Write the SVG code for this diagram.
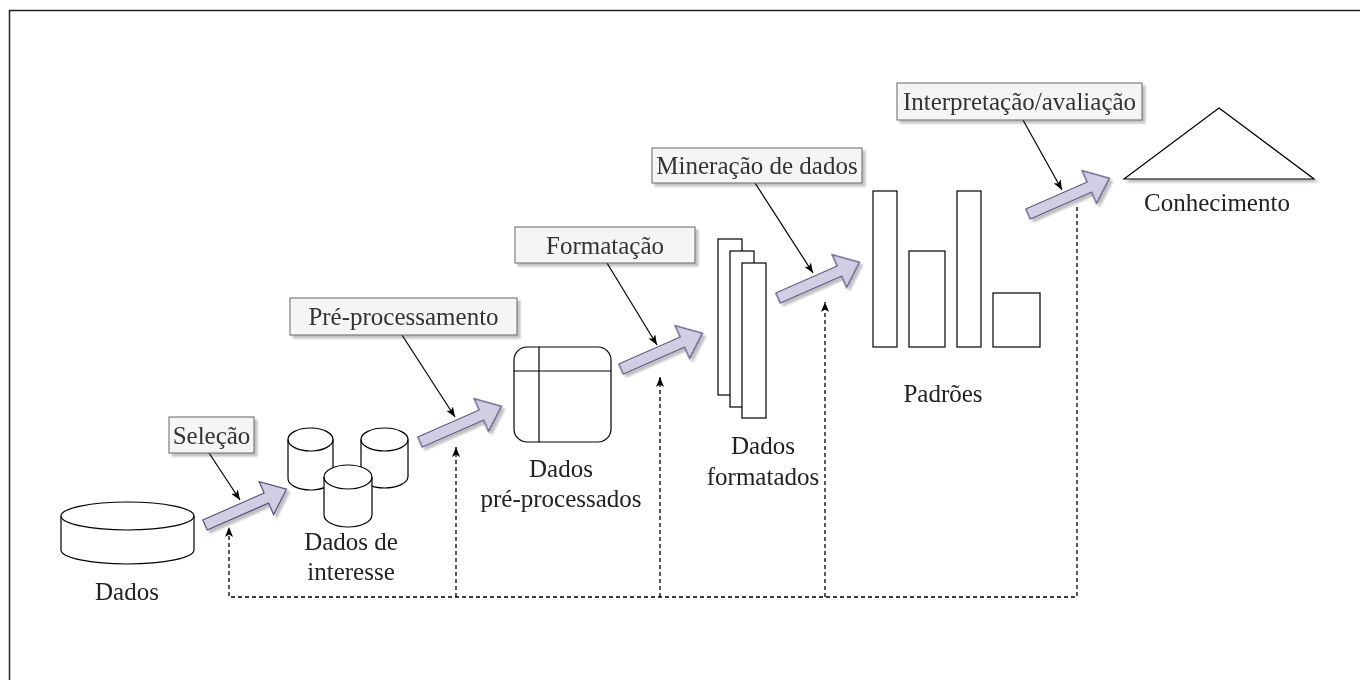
<svg xmlns="http://www.w3.org/2000/svg" width="1360" height="680" viewBox="0 0 1360 680" font-family="'Liberation Serif','Times New Roman',serif">
<defs>
<style>
text{font-family:"Liberation Serif","Times New Roman",serif;font-size:25px;fill:#222;text-anchor:middle}
.lbl rect{fill:#f5f5f5;stroke:#666;stroke-width:1}
.lbl text{fill:#333}
.shape{fill:#fff;stroke:#000;stroke-width:1.2}
.line{fill:none;stroke:#000;stroke-width:1.2}
.big{fill:#d0cee2;stroke:#56517e;stroke-width:1.2}
.thin{fill:none;stroke:#000;stroke-width:1.2;marker-end:url(#ah)}
.dasha{fill:none;stroke:#000;stroke-width:1.3;stroke-dasharray:4 3;marker-end:url(#ah)}
</style>
<marker id="ah" markerUnits="userSpaceOnUse" markerWidth="10" markerHeight="8" refX="10" refY="4" orient="auto">
<path d="M0,0 L10,4 L0,8 L2.5,4 Z" fill="#000"/>
</marker>
<filter id="sh" x="-20%" y="-20%" width="150%" height="150%">
<feGaussianBlur in="SourceAlpha" stdDeviation="1"/>
<feOffset dx="3" dy="3"/>
<feComponentTransfer><feFuncA type="linear" slope="0.25"/></feComponentTransfer>
<feMerge><feMergeNode/><feMergeNode in="SourceGraphic"/></feMerge>
</filter>
<path id="bigArrow" d="M0,-5.5 L67,-5.5 L67,-18 L89,0 L67,18 L67,5.5 L0,5.5 Z"/>
</defs>
<rect width="1360" height="680" fill="#fff"/>
<path d="M9.5,680 V10.5 H1360" fill="none" stroke="#222" stroke-width="1.5"/>

<g id="connectors">
<path class="dasha" d="M1077,207 V597 H229 V527"/>
<path class="dasha" d="M456,597 V447"/>
<path class="dasha" d="M660,597 V377"/>
<path class="dasha" d="M825,597 V302"/>
<path class="thin" d="M209,453 L240,500"/>
<path class="thin" d="M402,335 L455,417"/>
<path class="thin" d="M607,263 L657,345"/>
<path class="thin" d="M755,183 L813,273"/>
<path class="thin" d="M1023,120 L1062,190"/>
<g filter="url(#sh)">
<use href="#bigArrow" class="big" transform="translate(205,525) rotate(-23.7)"/>
<use href="#bigArrow" class="big" transform="translate(420,442) rotate(-23.7)"/>
<use href="#bigArrow" class="big" transform="translate(621,369) rotate(-23.7)"/>
<use href="#bigArrow" class="big" transform="translate(778,298) rotate(-23.7)"/>
<use href="#bigArrow" class="big" transform="translate(1028,214) rotate(-23.7)"/>
</g>
</g>

<g id="dados">
<path class="shape" d="M61,516 A66.5,14 0 0 1 194,516 V550 A66.5,14 0 0 1 61,550 Z"/>
<path class="line" d="M61,516 A66.5,14 0 0 0 194,516"/>
<text x="127" y="600">Dados</text>
</g>

<g id="dados-interesse">
<path class="shape" d="M288,439.5 A22.5,11.5 0 0 1 333,439.5 V478.5 A22.5,11.5 0 0 1 288,478.5 Z"/>
<path class="line" d="M288,439.5 A22.5,11.5 0 0 0 333,439.5"/>
<path class="shape" d="M361,439.5 A23.5,11.5 0 0 1 408,439.5 V476.5 A23.5,11.5 0 0 1 361,476.5 Z"/>
<path class="line" d="M361,439.5 A23.5,11.5 0 0 0 408,439.5"/>
<path class="shape" d="M324,477 A24,12 0 0 1 372,477 V515 A24,12 0 0 1 324,515 Z"/>
<path class="line" d="M324,477 A24,12 0 0 0 372,477"/>
<text x="351" y="550">Dados de</text>
<text x="351" y="580">interesse</text>
</g>

<g id="dados-preprocessados">
<rect class="shape" x="514" y="347" width="97" height="95" rx="13"/>
<path class="line" d="M514,371 H611 M539,347 V442"/>
<text x="561" y="477">Dados</text>
<text x="561" y="507">pré-processados</text>
</g>

<g id="dados-formatados">
<rect class="shape" x="718" y="239" width="24" height="156"/>
<rect class="shape" x="730" y="251" width="24" height="156"/>
<rect class="shape" x="742" y="263" width="24" height="155"/>
<text x="763" y="454">Dados</text>
<text x="763" y="485">formatados</text>
</g>

<g id="padroes">
<rect class="shape" x="873" y="191" width="24" height="156"/>
<rect class="shape" x="909" y="251" width="36" height="96"/>
<rect class="shape" x="957" y="191" width="24" height="156"/>
<rect class="shape" x="993" y="293" width="47" height="54"/>
<text x="943" y="402">Padrões</text>
</g>

<g id="conhecimento">
<path class="shape" filter="url(#sh)" d="M1124,179 L1219,108 L1314,179 Z"/>
<text x="1217" y="211">Conhecimento</text>
</g>

<g id="lbl-selecao" class="lbl">
<rect x="169" y="417" width="85" height="36" filter="url(#sh)"/>
<text x="211.5" y="443.5">Seleção</text>
</g>
<g id="lbl-preprocessamento" class="lbl">
<rect x="290" y="298" width="227" height="37" filter="url(#sh)"/>
<text x="403.5" y="325">Pré-processamento</text>
</g>
<g id="lbl-formatacao" class="lbl">
<rect x="515" y="227" width="180" height="36" filter="url(#sh)"/>
<text x="605" y="253.5">Formatação</text>
</g>
<g id="lbl-mineracao" class="lbl">
<rect x="652" y="148" width="210" height="35" filter="url(#sh)"/>
<text x="757" y="174">Mineração de dados</text>
</g>
<g id="lbl-interpretacao" class="lbl">
<rect x="897" y="83" width="245" height="37" filter="url(#sh)"/>
<text x="1019.5" y="110">Interpretação/avaliação</text>
</g>
</svg>
